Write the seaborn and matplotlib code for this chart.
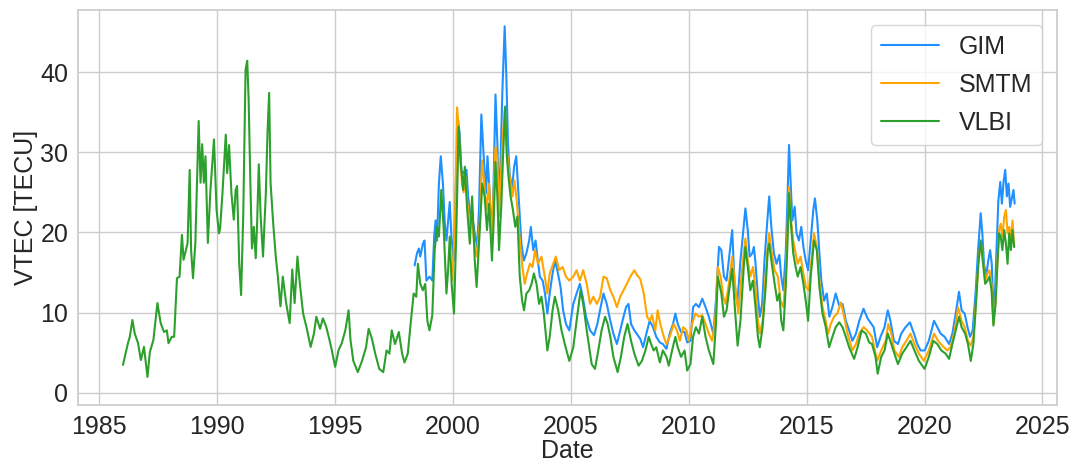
import pandas as pd
import seaborn as sns
import matplotlib
matplotlib.use("Agg")
import matplotlib.pyplot as plt

# VLBI series (decimal year, VTEC in TECU)
vlbi_year = [1986.00, 1986.14, 1986.21, 1986.29, 1986.40, 1986.50, 1986.64, 1986.76, 1986.89, 1987.04,
             1987.14, 1987.29, 1987.46, 1987.60, 1987.74, 1987.86, 1987.93, 1988.07, 1988.17, 1988.29,
             1988.40, 1988.50, 1988.57, 1988.67, 1988.74, 1988.83, 1988.89, 1988.97, 1989.07, 1989.14,
             1989.21, 1989.29, 1989.36, 1989.43, 1989.50, 1989.60, 1989.71, 1989.79, 1989.86, 1989.97,
             1990.07, 1990.12, 1990.22, 1990.36, 1990.42, 1990.50, 1990.60, 1990.70, 1990.78, 1990.84,
             1990.93, 1991.01, 1991.10, 1991.20, 1991.27, 1991.33, 1991.40, 1991.47, 1991.55, 1991.63,
             1991.69, 1991.76, 1991.84, 1991.94, 1992.06, 1992.13, 1992.20, 1992.26, 1992.37, 1992.48,
             1992.57, 1992.68, 1992.78, 1992.92, 1993.07, 1993.18, 1993.28, 1993.40, 1993.50, 1993.64,
             1993.78, 1993.96, 1994.10, 1994.20, 1994.36, 1994.48, 1994.62, 1994.76, 1994.86, 1995.00,
             1995.14, 1995.28, 1995.43, 1995.57, 1995.65, 1995.77, 1995.96, 1996.14, 1996.31, 1996.42,
             1996.56, 1996.70, 1996.87, 1997.04, 1997.18, 1997.30, 1997.40, 1997.54, 1997.70, 1997.84,
             1997.94, 1998.08, 1998.23, 1998.33, 1998.44, 1998.51, 1998.61, 1998.72, 1998.82, 1998.91,
             1999.00, 1999.12, 1999.22, 1999.32, 1999.40, 1999.50, 1999.60, 1999.72, 1999.79, 1999.86,
             1999.94, 2000.04, 2000.14, 2000.24, 2000.33, 2000.43, 2000.50, 2000.60, 2000.71, 2000.81,
             2000.92, 2001.00, 2001.10, 2001.24, 2001.34, 2001.44, 2001.53, 2001.65, 2001.72, 2001.80,
             2001.88, 2001.95, 2002.05, 2002.12, 2002.21, 2002.28, 2002.35, 2002.44, 2002.54, 2002.64,
             2002.73, 2002.83, 2002.93, 2003.01, 2003.11, 2003.23, 2003.33, 2003.43, 2003.54, 2003.65,
             2003.75, 2003.85, 2004.00, 2004.10, 2004.22, 2004.32, 2004.46, 2004.60, 2004.74, 2004.93,
             2005.10, 2005.24, 2005.41, 2005.52, 2005.67, 2005.88, 2006.02, 2006.16, 2006.30, 2006.45,
             2006.55, 2006.67, 2006.80, 2006.98, 2007.12, 2007.26, 2007.40, 2007.55, 2007.69, 2007.87,
             2008.01, 2008.16, 2008.30, 2008.40, 2008.51, 2008.62, 2008.77, 2008.90, 2009.05, 2009.15,
             2009.29, 2009.43, 2009.53, 2009.67, 2009.82, 2009.93, 2010.07, 2010.18, 2010.30, 2010.43,
             2010.57, 2010.71, 2010.85, 2011.04, 2011.15, 2011.23, 2011.38, 2011.49, 2011.60, 2011.73,
             2011.84, 2011.96, 2012.07, 2012.19, 2012.33, 2012.40, 2012.50, 2012.61, 2012.72, 2012.83,
             2012.93, 2013.01, 2013.13, 2013.26, 2013.35, 2013.41, 2013.52, 2013.64, 2013.75, 2013.84,
             2013.92, 2014.01, 2014.11, 2014.18, 2014.25, 2014.32, 2014.43, 2014.53, 2014.62, 2014.74,
             2014.86, 2014.96, 2015.06, 2015.17, 2015.31, 2015.43, 2015.54, 2015.67, 2015.81, 2015.95,
             2016.09, 2016.23, 2016.38, 2016.52, 2016.66, 2016.80, 2017.01, 2017.16, 2017.33, 2017.51,
             2017.65, 2017.77, 2017.92, 2018.01, 2018.16, 2018.30, 2018.44, 2018.59, 2018.72, 2018.87,
             2019.05, 2019.23, 2019.40, 2019.57, 2019.76, 2020.00, 2020.18, 2020.37, 2020.54, 2020.71,
             2020.89, 2021.04, 2021.18, 2021.32, 2021.46, 2021.57, 2021.72, 2021.84, 2021.96, 2022.07,
             2022.18, 2022.28, 2022.38, 2022.48, 2022.57, 2022.67, 2022.75, 2022.84, 2022.92, 2023.01,
             2023.09, 2023.16, 2023.23, 2023.30, 2023.38, 2023.45, 2023.52, 2023.59, 2023.66, 2023.73,
             2023.80]
vlbi_tec = [3.5, 5.3, 6.2, 7.0, 9.1, 7.4, 6.2, 4.1, 5.75, 2.0,
            5.1, 6.6, 11.2, 8.7, 7.6, 7.8, 6.2, 7.0, 7.0, 14.3,
            14.5, 19.7, 16.6, 17.8, 18.7, 27.8, 17.8, 14.3, 18.7, 26.2,
            33.9, 26.2, 31.0, 26.2, 29.5, 18.7, 25.3, 28.7, 31.6, 22.8,
            19.9, 20.5, 24.9, 32.2, 27.4, 30.9, 24.9, 21.6, 25.3, 25.8,
            16.2, 12.2, 22.0, 40.3, 41.4, 36.6, 26.6, 18.0, 20.7, 16.8,
            21.2, 28.5, 22.0, 17.0, 24.9, 32.4, 37.4, 26.2, 21.2, 17.0,
            14.5, 10.8, 14.5, 11.2, 8.7, 15.4, 11.2, 17.0, 13.7, 9.9,
            8.25, 5.75, 7.4, 9.5, 8.0, 9.3, 8.25, 6.6, 5.3, 3.25,
            5.3, 6.2, 7.8, 10.3, 6.6, 4.0, 2.6, 4.0, 5.7, 8.0,
            6.75, 4.9, 3.0, 2.6, 5.3, 4.9, 7.8, 6.1, 7.6, 4.9,
            3.8, 4.9, 9.5, 12.4, 12.0, 16.1, 13.6, 12.8, 13.6, 9.0,
            7.8, 9.7, 17.8, 20.7, 19.5, 25.3, 20.7, 12.4, 15.3, 19.5,
            13.6, 9.9, 20.3, 33.2, 28.6, 25.3, 28.2, 22.8, 18.6, 24.5,
            16.5, 13.2, 18.6, 26.1, 24.5, 20.3, 23.6, 16.5, 21.1, 28.8,
            24.5, 17.8, 23.6, 29.5, 35.7, 29.5, 27.0, 24.5, 22.8, 20.7,
            22.0, 14.5, 11.5, 10.3, 12.4, 12.8, 13.6, 14.9, 13.6, 11.1,
            12.0, 9.9, 5.3, 7.0, 10.3, 12.0, 10.3, 7.8, 6.1, 4.0,
            5.7, 9.0, 12.8, 11.1, 7.8, 3.6, 3.0, 5.3, 7.8, 9.5,
            8.7, 7.0, 4.5, 2.6, 4.5, 7.0, 8.6, 6.5, 4.9, 3.4,
            4.0, 5.3, 7.0, 6.1, 5.3, 5.7, 3.8, 5.3, 4.5, 3.4,
            5.3, 7.0, 5.7, 4.5, 5.3, 2.8, 3.6, 7.0, 8.2, 7.4,
            9.5, 7.0, 5.3, 3.6, 8.6, 14.5, 12.4, 9.5, 10.3, 13.2,
            15.5, 10.3, 5.9, 9.0, 15.7, 18.2, 15.7, 12.8, 14.0, 10.7,
            7.0, 5.7, 8.2, 13.2, 17.8, 18.6, 16.1, 13.6, 11.5, 12.4,
            9.0, 7.8, 13.2, 18.2, 24.9, 21.5, 17.4, 15.7, 14.5, 15.7,
            13.6, 11.5, 9.0, 14.5, 19.0, 17.8, 13.2, 9.9, 8.2, 5.7,
            7.0, 8.2, 8.8, 8.2, 7.0, 5.7, 4.25, 5.7, 7.8, 7.4,
            6.3, 6.1, 4.5, 2.4, 4.5, 5.3, 7.4, 6.1, 4.9, 3.6,
            4.9, 5.7, 6.5, 5.3, 4.0, 3.0, 4.5, 6.5, 6.1, 5.3,
            4.9, 4.25, 6.1, 7.8, 9.5, 8.2, 7.4, 6.1, 4.0, 6.1,
            11.1, 16.1, 19.0, 16.1, 13.6, 14.0, 14.5, 12.8, 8.4, 11.1,
            16.1, 19.9, 19.5, 17.8, 20.3, 18.6, 16.1, 19.9, 17.8, 20.3,
            18.2]

# GIM series
gim_year = [1998.37, 1998.47, 1998.55, 1998.61, 1998.72, 1998.79, 1998.87, 1999.00, 1999.12, 1999.20,
            1999.26, 1999.32, 1999.40, 1999.48, 1999.57, 1999.65, 1999.72, 1999.86, 1999.93, 2000.03,
            2000.14, 2000.21, 2000.28, 2000.35, 2000.43, 2000.57, 2000.64, 2000.74, 2000.84, 2000.92,
            2001.02, 2001.10, 2001.20, 2001.30, 2001.40, 2001.46, 2001.56, 2001.63, 2001.72, 2001.80,
            2001.88, 2001.95, 2002.02, 2002.09, 2002.19, 2002.26, 2002.33, 2002.40, 2002.50, 2002.59,
            2002.68, 2002.78, 2002.90, 2003.00, 2003.11, 2003.23, 2003.30, 2003.40, 2003.50, 2003.58,
            2003.68, 2003.80, 2003.90, 2004.00, 2004.10, 2004.22, 2004.33, 2004.45, 2004.56, 2004.67,
            2004.79, 2004.93, 2005.10, 2005.24, 2005.38, 2005.50, 2005.64, 2005.81, 2005.98, 2006.12,
            2006.26, 2006.38, 2006.52, 2006.67, 2006.80, 2006.95, 2007.09, 2007.23, 2007.34, 2007.44,
            2007.55, 2007.69, 2007.83, 2007.94, 2008.06, 2008.20, 2008.34, 2008.48, 2008.62, 2008.77,
            2008.90, 2009.05, 2009.19, 2009.33, 2009.43, 2009.53, 2009.67, 2009.82, 2009.93, 2010.07,
            2010.18, 2010.30, 2010.43, 2010.57, 2010.71, 2010.85, 2011.04, 2011.15, 2011.28, 2011.38,
            2011.49, 2011.60, 2011.73, 2011.84, 2011.94, 2012.06, 2012.19, 2012.30, 2012.40, 2012.50,
            2012.58, 2012.69, 2012.76, 2012.83, 2012.93, 2013.01, 2013.11, 2013.21, 2013.33, 2013.41,
            2013.50, 2013.61, 2013.72, 2013.84, 2013.92, 2014.01, 2014.11, 2014.18, 2014.25, 2014.32,
            2014.39, 2014.49, 2014.57, 2014.67, 2014.77, 2014.86, 2014.96, 2015.06, 2015.17, 2015.28,
            2015.35, 2015.45, 2015.54, 2015.62, 2015.74, 2015.85, 2015.96, 2016.09, 2016.23, 2016.38,
            2016.52, 2016.66, 2016.80, 2016.94, 2017.09, 2017.23, 2017.41, 2017.58, 2017.70, 2017.84,
            2017.99, 2018.13, 2018.30, 2018.44, 2018.55, 2018.70, 2018.87, 2019.01, 2019.19, 2019.38,
            2019.55, 2019.69, 2019.83, 2020.00, 2020.18, 2020.40, 2020.54, 2020.68, 2020.85, 2021.04,
            2021.18, 2021.32, 2021.46, 2021.57, 2021.70, 2021.82, 2021.93, 2022.04, 2022.17, 2022.27,
            2022.38, 2022.45, 2022.52, 2022.61, 2022.70, 2022.78, 2022.85, 2022.92, 2022.99, 2023.06,
            2023.13, 2023.21, 2023.28, 2023.35, 2023.42, 2023.49, 2023.56, 2023.63, 2023.70, 2023.77,
            2023.82]
gim_tec = [15.9, 17.4, 18.0, 17.0, 18.6, 19.0, 14.0, 14.5, 14.0, 19.5,
           21.5, 19.0, 26.1, 29.5, 26.1, 21.1, 19.0, 23.8, 19.5, 16.5,
           28.2, 34.0, 32.4, 27.8, 27.4, 27.8, 24.5, 22.0, 21.5, 19.9,
           18.2, 22.8, 34.7, 29.5, 24.9, 29.5, 24.5, 18.6, 26.1, 37.2,
           31.1, 23.2, 29.5, 37.4, 45.7, 39.5, 31.1, 27.4, 25.3, 28.2,
           29.5, 24.5, 18.6, 16.5, 17.4, 19.0, 20.7, 17.8, 19.0, 16.9,
           14.5, 14.0, 12.4, 9.9, 12.4, 14.9, 16.5, 14.9, 13.2, 10.3,
           8.6, 7.8, 11.1, 12.4, 13.6, 12.0, 9.5, 7.8, 7.2, 8.6,
           10.7, 12.4, 11.1, 9.0, 7.4, 6.1, 7.8, 9.5, 10.7, 11.1,
           8.6, 7.8, 7.2, 6.75, 5.7, 7.4, 9.0, 8.2, 7.0, 6.3,
           6.1, 5.5, 7.4, 8.6, 9.9, 8.6, 7.6, 7.6, 6.3, 6.5,
           10.7, 11.1, 10.7, 11.75, 10.7, 9.5, 7.4, 11.5, 18.2, 17.8,
           14.5, 14.0, 17.4, 20.3, 13.6, 11.1, 16.5, 19.9, 23.0, 20.3,
           17.0, 17.4, 18.2, 16.1, 12.0, 9.5, 11.1, 16.5, 21.5, 24.5,
           20.7, 17.4, 16.1, 17.2, 14.5, 12.8, 17.4, 23.6, 30.9, 26.1,
           21.5, 23.2, 19.9, 19.0, 20.7, 18.2, 16.5, 15.3, 19.0, 22.8,
           24.25, 21.5, 17.4, 14.0, 11.5, 12.4, 9.5, 10.7, 12.4, 10.9,
           11.1, 9.0, 7.8, 6.5, 7.4, 9.0, 10.5, 9.3, 8.8, 8.2,
           5.7, 7.0, 8.2, 10.3, 9.0, 6.5, 6.1, 7.4, 8.2, 8.8,
           7.4, 6.1, 5.3, 5.3, 6.5, 9.0, 8.2, 7.4, 7.0, 6.1,
           7.4, 9.9, 12.6, 10.3, 9.9, 8.2, 7.0, 7.8, 12.8, 17.8,
           22.4, 19.9, 16.1, 14.5, 16.5, 17.8, 16.1, 10.3, 12.8, 18.6,
           24.0, 26.3, 23.6, 26.3, 27.8, 24.5, 26.1, 23.2, 24.25, 25.3,
           23.6]

# SMTM series
smtm_year = [1999.96, 2000.07, 2000.17, 2000.24, 2000.30, 2000.38, 2000.45, 2000.52, 2000.60, 2000.70,
             2000.80, 2000.90, 2001.00, 2001.13, 2001.23, 2001.30, 2001.42, 2001.53, 2001.63, 2001.72,
             2001.80, 2001.88, 2001.95, 2002.09, 2002.19, 2002.28, 2002.40, 2002.52, 2002.60, 2002.70,
             2002.82, 2002.94, 2003.04, 2003.14, 2003.26, 2003.37, 2003.48, 2003.60, 2003.75, 2003.89,
             2004.00, 2004.10, 2004.25, 2004.36, 2004.50, 2004.65, 2004.79, 2004.93, 2005.10, 2005.24,
             2005.38, 2005.52, 2005.67, 2005.81, 2005.95, 2006.10, 2006.24, 2006.38, 2006.52, 2006.67,
             2006.80, 2006.95, 2007.09, 2007.23, 2007.37, 2007.52, 2007.69, 2007.80, 2007.94, 2008.09,
             2008.23, 2008.34, 2008.44, 2008.58, 2008.68, 2008.79, 2008.94, 2009.05, 2009.19, 2009.36,
             2009.50, 2009.62, 2009.76, 2009.90, 2010.00, 2010.14, 2010.28, 2010.43, 2010.57, 2010.71,
             2010.85, 2010.99, 2011.13, 2011.23, 2011.35, 2011.46, 2011.56, 2011.70, 2011.84, 2011.99,
             2012.10, 2012.20, 2012.30, 2012.40, 2012.50, 2012.61, 2012.72, 2012.83, 2012.93, 2013.01,
             2013.13, 2013.24, 2013.35, 2013.41, 2013.52, 2013.64, 2013.78, 2013.89, 2014.01, 2014.11,
             2014.18, 2014.25, 2014.32, 2014.43, 2014.53, 2014.62, 2014.74, 2014.86, 2014.97, 2015.09,
             2015.20, 2015.31, 2015.43, 2015.54, 2015.67, 2015.77, 2015.91, 2016.02, 2016.16, 2016.30,
             2016.45, 2016.59, 2016.73, 2016.94, 2017.09, 2017.23, 2017.41, 2017.56, 2017.77, 2017.99,
             2018.16, 2018.35, 2018.46, 2018.59, 2018.72, 2018.91, 2019.05, 2019.23, 2019.40, 2019.57,
             2019.76, 2019.97, 2020.18, 2020.40, 2020.57, 2020.75, 2020.96, 2021.10, 2021.28, 2021.42,
             2021.57, 2021.70, 2021.84, 2021.96, 2022.07, 2022.18, 2022.28, 2022.38, 2022.48, 2022.57,
             2022.67, 2022.75, 2022.84, 2022.92, 2023.01, 2023.09, 2023.16, 2023.23, 2023.30, 2023.38,
             2023.45, 2023.52, 2023.59, 2023.66, 2023.73, 2023.80]
smtm_tec = [14.0, 20.0, 35.6, 33.0, 29.5, 26.0, 25.0, 27.0, 24.0, 21.0,
            22.5, 18.5, 17.0, 21.1, 29.0, 26.9, 22.8, 26.1, 18.6, 24.9,
            30.7, 29.0, 22.0, 31.1, 35.3, 30.3, 27.0, 24.5, 26.5, 24.0,
            19.5, 15.7, 13.6, 14.9, 16.1, 15.7, 17.8, 16.1, 17.0, 14.5,
            12.4, 14.9, 16.1, 17.0, 15.3, 15.7, 14.5, 14.0, 14.5, 15.3,
            14.0, 15.3, 13.6, 11.1, 12.0, 11.1, 12.0, 14.5, 14.3, 12.8,
            12.0, 10.7, 12.0, 12.8, 13.6, 14.5, 15.3, 14.7, 14.2, 12.4,
            9.5, 9.0, 9.7, 7.8, 10.3, 8.6, 7.0, 6.1, 7.0, 8.6,
            7.8, 6.5, 8.2, 7.8, 6.5, 8.6, 9.9, 9.5, 9.7, 8.6,
            7.4, 6.5, 9.5, 15.7, 14.5, 12.0, 11.1, 13.6, 17.0, 12.8,
            9.9, 13.5, 16.5, 19.25, 16.5, 14.5, 15.7, 13.2, 9.0, 7.4,
            9.0, 14.0, 18.2, 19.9, 17.4, 15.3, 14.5, 11.5, 10.7, 14.5,
            19.9, 25.7, 22.0, 19.0, 17.4, 16.1, 17.0, 14.9, 13.2, 12.8,
            16.5, 19.9, 18.2, 14.0, 10.7, 9.5, 7.4, 8.6, 9.5, 9.9,
            11.3, 9.5, 7.4, 5.3, 6.1, 7.4, 8.2, 7.8, 7.0, 4.0,
            5.3, 6.5, 8.6, 7.4, 5.3, 4.5, 5.7, 6.5, 7.4, 6.1,
            4.9, 4.0, 5.3, 7.4, 6.5, 5.9, 5.3, 5.7, 7.8, 10.7,
            9.0, 8.2, 6.5, 5.9, 7.0, 11.5, 16.1, 19.0, 16.5, 14.0,
            14.9, 15.3, 13.6, 8.6, 11.5, 16.5, 20.3, 21.1, 19.5, 22.0,
            22.8, 19.9, 20.7, 19.0, 21.5, 18.2]

series_names = ["GIM", "SMTM", "VLBI"]
series_colors = {"GIM": "#1e90ff", "SMTM": "#ffa500", "VLBI": "#2ca02c"}

df = pd.concat([
    pd.DataFrame({"Date": gim_year, "VTEC": gim_tec, "Series": "GIM"}),
    pd.DataFrame({"Date": smtm_year, "VTEC": smtm_tec, "Series": "SMTM"}),
    pd.DataFrame({"Date": vlbi_year, "VTEC": vlbi_tec, "Series": "VLBI"}),
], ignore_index=True)

sns.set_theme(style="whitegrid")
plt.rcParams["font.family"] = ["Liberation Sans", "DejaVu Sans"]

fig, ax = plt.subplots(figsize=(10.71, 4.65), dpi=100)
fig.subplots_adjust(left=0.073, right=0.987, top=0.978, bottom=0.129)

sns.lineplot(data=df, x="Date", y="VTEC", hue="Series", hue_order=series_names,
             palette=series_colors, linewidth=1.5, estimator=None, errorbar=None, ax=ax)

ax.set_xlim(1984.1, 2025.62)
ax.set_ylim(-1.5, 47.7)
ax.set_xticks(range(1985, 2026, 5))
ax.set_yticks(range(0, 41, 10))
ax.tick_params(labelsize=18, pad=1)
ax.set_xlabel("Date", fontsize=18, labelpad=0)
ax.set_ylabel("VTEC [TECU]", fontsize=18, labelpad=2)

handles, labels = ax.get_legend_handles_labels()
keep = [(h, l) for h, l in zip(handles, labels) if l in series_names]
ax.legend([h for h, _ in keep], [l for _, l in keep], loc="upper right", fontsize=18,
          borderaxespad=0.6, handlelength=2.3, labelspacing=0.55)

fig.savefig("out.png", dpi=100)
